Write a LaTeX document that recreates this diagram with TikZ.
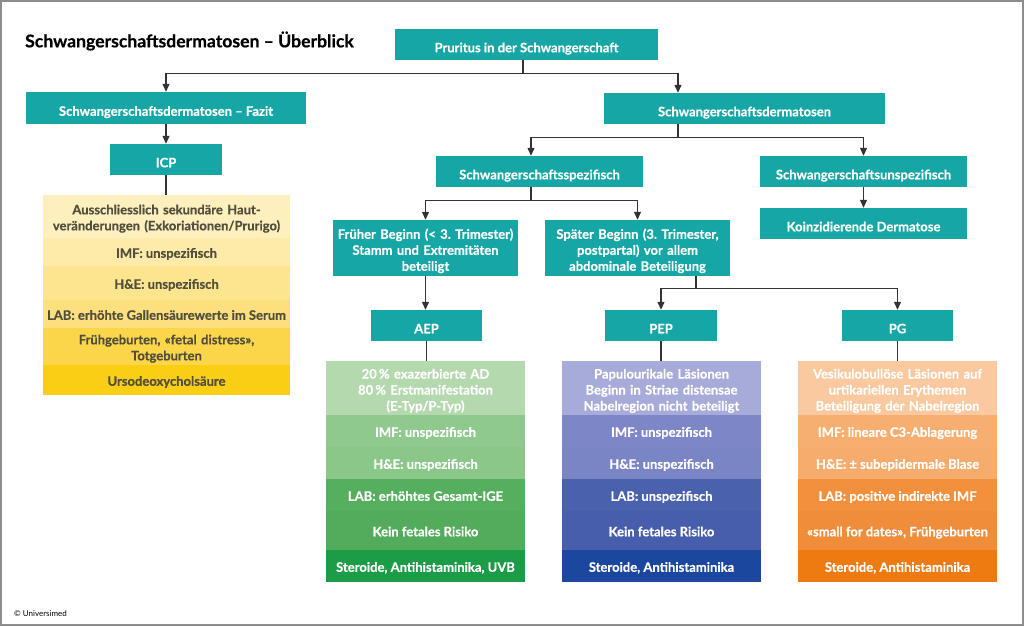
\documentclass[tikz,border=0pt]{standalone}
\usepackage{fontspec}
\setmainfont{Lato}[BoldFeatures={FakeBold=0.5}]
\usetikzlibrary{arrows.meta,calc}
\frenchspacing
\definecolor{tealc}{HTML}{17A6A6}
\definecolor{linec}{HTML}{333333}
\definecolor{framec}{HTML}{8C8C8C}
\definecolor{ytext}{HTML}{524E3C}
\definecolor{ya}{HTML}{FEF0BE}
\definecolor{yb}{HTML}{FEEBAA}
\definecolor{yc}{HTML}{FDE590}
\definecolor{yd}{HTML}{FDE07E}
\definecolor{ye}{HTML}{FBD64A}
\definecolor{yf}{HTML}{F9CE14}
\definecolor{ga}{HTML}{B5D9AE}
\definecolor{gb}{HTML}{8FC98D}
\definecolor{gc}{HTML}{8CC78A}
\definecolor{gd}{HTML}{56AF5E}
\definecolor{ge}{HTML}{52AC5B}
\definecolor{gf}{HTML}{1C9C47}
\definecolor{ba}{HTML}{A7ABD9}
\definecolor{bb}{HTML}{7D87C7}
\definecolor{bc}{HTML}{7A85C5}
\definecolor{bd}{HTML}{4A61AE}
\definecolor{be}{HTML}{475EAC}
\definecolor{bf}{HTML}{1C479E}
\definecolor{oa}{HTML}{FAC9A0}
\definecolor{ob}{HTML}{F6AF70}
\definecolor{oc}{HTML}{F5AC6C}
\definecolor{od}{HTML}{F2903D}
\definecolor{oe}{HTML}{F08D3A}
\definecolor{of}{HTML}{EE7A12}
\newlength\txtstrutH
\setlength\txtstrutH{19pt}
\tikzset{
  struth/.code={\setlength\txtstrutH{#1}},
  txtfix/.style={execute at begin node={\frenchspacing\noindent\rule{0pt}{\txtstrutH}}, execute at end node={\rule[-3.5pt]{0pt}{3.5pt}}},
  mtxt/.style n args={2}{text width=#1, struth=#2},
  tbox/.style={txtfix, struth=19pt, fill=tealc, text=white, font=\bfseries\fontsize{13}{16}\selectfont, align=center, inner sep=0pt, minimum height=31pt},
  rowbox/.style={txtfix, struth=15pt, inner sep=0pt, align=center, text=white, font=\bfseries\fontsize{13}{16}\selectfont, minimum width=199pt},
  yrow/.style={txtfix, struth=15pt, inner sep=0pt, align=center, text=ytext, font=\bfseries\fontsize{13}{16}\selectfont, minimum width=247pt},
  conn/.style={draw=linec, line width=1.2pt},
  arr/.style={conn, -{Triangle[length=8pt,width=7pt]}}
}
\begin{document}
\begin{tikzpicture}[x=1pt,y=-1pt]
\useasboundingbox (0,0) rectangle (1024,626);
\fill[white] (0,0) rectangle (1024,626);
\draw[framec, line width=1.5pt] (1,1) rectangle (1023,625);
% title
\node[anchor=west, inner sep=0pt, font=\bfseries\fontsize{17.6}{20}\selectfont] (title) at (25,41) {Schwangerschaftsdermatosen – Überblick};
\node[anchor=west, inner sep=0pt, font=\fontsize{8}{10}\selectfont] (copy) at (14,614) {© Universimed};
% teal nodes
\node[tbox, minimum width=263pt] (pr) at (526.5,44.5) {Pruritus in der Schwangerschaft};
\node[tbox, minimum width=280pt, minimum height=32pt] (fazit) at (166,108) {Schwangerschaftsdermatosen – Fazit};
\node[tbox, minimum width=112pt] (icp) at (166,159.5) {ICP};
\node[tbox, minimum width=281pt] (sd) at (744.5,108.5) {Schwangerschaftsdermatosen};
\node[tbox, minimum width=207pt] (spez) at (539.5,171.5) {Schwangerschaftsspezifisch};
\node[tbox, minimum width=207pt] (unspez) at (863.5,171.5) {Schwangerschaftsunspezifisch};
\node[tbox, minimum width=207pt] (koinz) at (863.5,223.5) {Koinzidierende Dermatose};
\node[tbox, mtxt={185pt}{17pt}, minimum width=185pt, minimum height=56pt] (frueh) at (425.5,248) {Früher Beginn (< 3. Trimester)\\Stamm und Extremitäten\\beteiligt};
\node[tbox, mtxt={185pt}{17pt}, minimum width=185pt, minimum height=56pt] (spaet) at (637.5,248) {Später Beginn (3. Trimester,\\postpartal) vor allem\\abdominale Beteiligung};
\node[tbox, minimum width=111pt] (aep) at (426.5,325.5) {AEP};
\node[tbox, minimum width=112pt] (pep) at (661,325.5) {PEP};
\node[tbox, minimum width=111pt] (pg) at (897.5,325.5) {PG};
% yellow ICP table
\node[yrow, mtxt={247pt}{15.1pt}, fill=ya, minimum height=43pt] (y1) at (166.5,216.5) {Ausschliesslich sekundäre Haut-\\veränderungen (Exkoriationen/Prurigo)};
\node[yrow, fill=yb, minimum height=28pt] (y2) at (166.5,252) {IMF: unspezifisch};
\node[yrow, fill=yc, minimum height=34pt] (y3) at (166.5,283) {H\&E: unspezifisch};
\node[yrow, fill=yd, minimum height=28pt] (y4) at (166.5,314) {LAB: erhöhte Gallensäurewerte im Serum};
\node[yrow, mtxt={247pt}{15.1pt}, fill=ye, minimum height=37pt] (y5) at (166.5,346.5) {Frühgeburten, «fetal distress»,\\Totgeburten};
\node[yrow, fill=yf, minimum height=30pt] (y6) at (166.5,380) {Ursodeoxycholsäure};
% green AEP table
\node[rowbox, mtxt={199pt}{16.5pt}, fill=ga, minimum height=54pt] (g1) at (425.5,388) {20\,\% exazerbierte AD\\80\,\% Erstmanifestation\\(E-Typ/P-Typ)};
\node[rowbox, fill=gb, minimum height=32pt] (g2) at (425.5,431) {IMF: unspezifisch};
\node[rowbox, fill=gc, minimum height=32pt] (g3) at (425.5,463) {H\&E: unspezifisch};
\node[rowbox, fill=gd, minimum height=32pt] (g4) at (425.5,495) {LAB: erhöhtes Gesamt-IGE};
\node[rowbox, fill=ge, minimum height=39pt] (g5) at (425.5,530.5) {Kein fetales Risiko};
\node[rowbox, fill=gf, minimum height=32pt] (g6) at (425.5,566) {Steroide, Antihistaminika, UVB};
% blue PEP table
\node[rowbox, mtxt={199pt}{16.5pt}, fill=ba, minimum height=54pt] (b1) at (661.5,388) {Papulourikale Läsionen\\Beginn in Striae distensae\\Nabelregion nicht beteiligt};
\node[rowbox, fill=bb, minimum height=32pt] (b2) at (661.5,431) {IMF: unspezifisch};
\node[rowbox, fill=bc, minimum height=32pt] (b3) at (661.5,463) {H\&E: unspezifisch};
\node[rowbox, fill=bd, minimum height=32pt] (b4) at (661.5,495) {LAB: unspezifisch};
\node[rowbox, fill=be, minimum height=39pt] (b5) at (661.5,530.5) {Kein fetales Risiko};
\node[rowbox, fill=bf, minimum height=32pt] (b6) at (661.5,566) {Steroide, Antihistaminika};
% orange PG table
\node[rowbox, mtxt={199pt}{16.5pt}, fill=oa, minimum height=54pt] (o1) at (897.5,388) {Vesikulobullöse Läsionen auf\\urtikariellen Erythemen\\Beteiligung der Nabelregion};
\node[rowbox, fill=ob, minimum height=32pt] (o2) at (897.5,431) {IMF: lineare C3-Ablagerung};
\node[rowbox, fill=oc, minimum height=32pt] (o3) at (897.5,463) {H\&E: ± subepidermale Blase};
\node[rowbox, fill=od, minimum height=32pt] (o4) at (897.5,495) {LAB: positive indirekte IMF};
\node[rowbox, fill=oe, minimum height=39pt] (o5) at (897.5,530.5) {«small for dates», Frühgeburten};
\node[rowbox, fill=of, minimum height=32pt] (o6) at (897.5,566) {Steroide, Antihistaminika};
% connectors
\draw[conn] ([xshift=-3.5pt]pr.south) -- ++(0,13) coordinate (j1);
\draw[arr] (j1) -| (fazit.north);
\draw[arr] (j1) -| ([xshift=-66.5pt]sd.north);
\draw[arr] (fazit.south) -- (icp.north);
\draw[conn] (icp.south) -- (icp.south |- y1.north);
\draw[conn] ([xshift=-66.5pt]sd.south) -- ++(0,13) coordinate (j2);
\draw[arr] (j2) -| ([xshift=-8.5pt]spez.north);
\draw[arr] (j2) -| (unspez.north);
\draw[arr] (unspez.south) -- (koinz.north);
\draw[conn] ([xshift=-8.5pt]spez.south) -- ++(0,13) coordinate (j3);
\draw[arr] (j3) -| (frueh.north);
\draw[arr] (j3) -| (spaet.north);
\draw[arr] (frueh.south) -- (frueh.south |- aep.north);
\draw[conn] ([xshift=58.5pt]spaet.south) -- ++(0,12) coordinate (j4);
\draw[arr] (j4) -| (pep.north);
\draw[arr] (j4) -| (pg.north);
\draw[conn] (aep.south) -- (aep.south |- g1.north);
\draw[conn] (pep.south) -- (pep.south |- b1.north);
\draw[conn] (pg.south) -- (pg.south |- o1.north);
\end{tikzpicture}
\end{document}
